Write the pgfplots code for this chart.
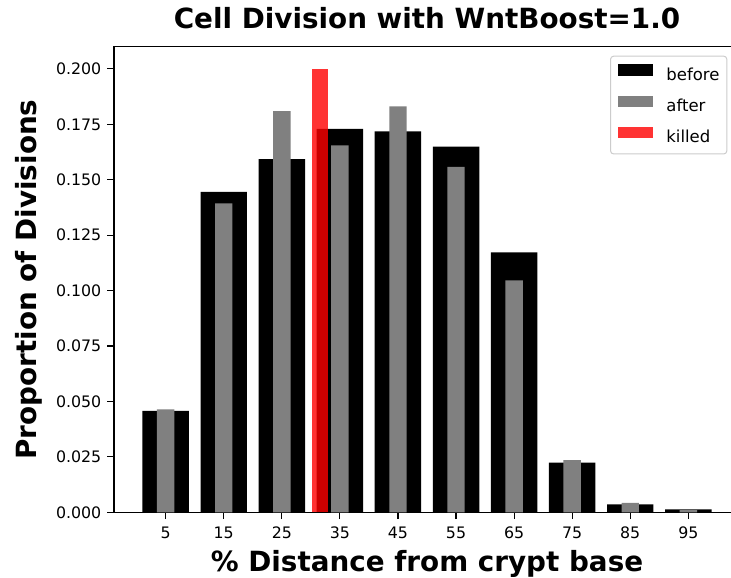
\documentclass[border=0pt]{standalone}
\usepackage{fontspec}
\setmainfont{DejaVu Sans}
\usepackage{pgfplots}
\pgfplotsset{compat=1.18}
\definecolor{mgrey}{RGB}{128,128,128}
\begin{document}
\begin{tikzpicture}[x=1pt,y=1pt]
\useasboundingbox (-114,-65.7) rectangle (617,512.3);
\begin{axis}[
  at={(0,0)}, anchor=south west,
  scale only axis, width=626pt, height=465.6pt,
  ybar, bar width=8,
  xmin=-3.9, xmax=103.9, ymin=0, ymax=0.21,
  xtick={5,15,25,35,45,55,65,75,85,95},
  ytick={0,0.025,0.05,0.075,0.1,0.125,0.15,0.175,0.2},
  tick pos=left, tick align=outside,
  major tick length=6.7pt,
  every tick/.style={black, line width=1.1pt},
  axis line style={line width=1.1pt},
  tick label style={font=\fontsize{15.8}{18}\selectfont},
  /pgf/number format/assume math mode=true,
  yticklabel style={/pgf/number format/.cd, fixed, fixed zerofill, precision=3, /tikz/.cd, xshift=-2.5pt},
  xticklabel style={yshift=-4.5pt},
  scaled y ticks=false,
  title={Cell Division with WntBoost=1.0},
  title style={font=\bfseries\fontsize{27.8}{30}\selectfont, at={(axis description cs:0.5,1)}, anchor=base, yshift=11.7pt, inner sep=0pt},
  xlabel={\% Distance from crypt base},
  xlabel style={font=\bfseries\fontsize{27.8}{30}\selectfont, at={(axis description cs:0.5,0)}, anchor=base, yshift=-59.4pt, inner sep=0pt},
  ylabel={Proportion of Divisions},
  ylabel style={font=\bfseries\fontsize{27.8}{30}\selectfont, at={(axis description cs:-0.1238,0.5)}, anchor=base, inner sep=0pt},
  legend cell align=left,
  legend style={at={(axis description cs:0.9797,0.9807)}, anchor=north east,
    font=\fontsize{16.5}{19}\selectfont, draw=black!20, rounded corners=3pt, line width=1pt,
    inner xsep=7.3pt, inner ysep=8.3pt, row sep=12pt, column sep=13.5pt,
    nodes={inner sep=0pt, text height=12pt, text depth=2.7pt}},
  myleg/.style={legend image code/.code={\fill[##1, sharp corners] (0pt,0pt) rectangle (35pt,11.7pt);}},
]
\addplot[fill=black, draw=none, bar shift=0pt, bar width=8, myleg] coordinates {
(5,0.0458) (15,0.1445) (25,0.1593) (35,0.1729) (45,0.1718) (55,0.1649) (65,0.1172) (75,0.0224) (85,0.0036) (95,0.0013)};
\addlegendentry{before}
\addplot[fill=mgrey, draw=none, bar shift=0pt, bar width=3, myleg] coordinates {
(5,0.0464) (15,0.1393) (25,0.1809) (35,0.1655) (45,0.1831) (55,0.1558) (65,0.1046) (75,0.0235) (85,0.0042) (95,0.0010)};
\addlegendentry{after}
\addplot[fill=red, fill opacity=0.8, draw=none, bar shift=0pt, bar width=2.8, myleg] coordinates {
(31.6,0.2)};
\addlegendentry{killed}
\end{axis}
\end{tikzpicture}
\end{document}
